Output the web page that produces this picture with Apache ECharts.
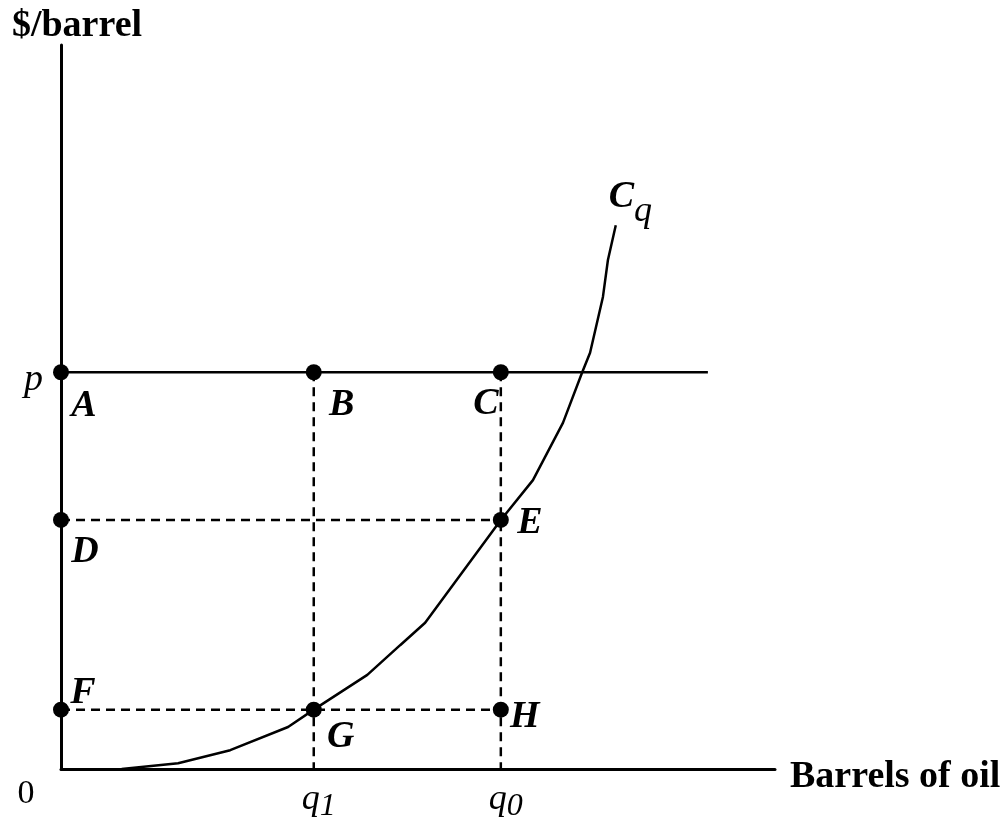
<!DOCTYPE html>
<html>
<head>
<meta charset="utf-8">
<script src="https://cdn.jsdelivr.net/npm/echarts@6/dist/echarts.min.js"></script>
<style>
  html, body { margin: 0; padding: 0; background: #fff; }
  #chart { width: 1007px; height: 821px; }
</style>
</head>
<body>
<div id="chart"></div>
<script>
// tick positions on the quantity axis and their labels
const xTicks = [0, 35.4, 61.6];
const xTickLabels = ['0', 'q1', 'q0'];
const yTicks = [54.8];
const yTickLabels = ['p'];

// price line p
const priceLineX = [0, 90.6];
const priceLineY = [54.8, 54.8];

// marked points
const pointNames = ['A', 'B', 'C', 'D', 'E', 'F', 'G', 'H'];
const pointX = [0, 35.4, 61.6, 0, 61.6, 0, 35.4, 61.6];
const pointY = [54.8, 54.8, 54.8, 34.4, 34.4, 8.2, 8.2, 8.2];

// dashed guide lines, [x0, y0, x1, y1]
const guideLines = [
  [35.4, 54.8, 35.4, 0],
  [61.6, 54.8, 61.6, 0],
  [0, 34.4, 61.6, 34.4],
  [0, 8.2, 61.6, 8.2]
];

// cost curve C_q
const curveX = [8.5, 16.4, 23.7, 31.8, 35.4, 42.9, 47.5, 51.0, 61.6, 66.1, 70.3, 73.0, 74.1, 75.9, 76.6, 77.7];
const curveY = [0, 0.8, 2.6, 5.8, 8.2, 13.0, 17.1, 20.2, 34.4, 39.9, 47.8, 54.8, 57.5, 65.2, 70.3, 75.1];

const serif = '"Liberation Serif", "Times New Roman", serif';

// where each point letter sits relative to its dot
const letterOffset = {
  A: [23, 34], B: [28, 33], C: [-15, 32], D: [24, 32],
  E: [29, 3], F: [22, -16], G: [27, 28], H: [24, 8]
};

let chart = echarts.init(document.getElementById('chart'));

let zip = (xs, ys) => xs.map((x, i) => [x, ys[i]]);

let guideSeries = guideLines.map(l => ({
  type: 'line',
  data: [[l[0], l[1]], [l[2], l[3]]],
  symbol: 'none',
  silent: true,
  lineStyle: { color: '#000', width: 2.5, type: [9, 6] },
  z: 2
}));

let option = {
  animation: false,
  backgroundColor: '#fff',
  grid: { left: 61, right: 232, top: 45, bottom: 52, outerBoundsMode: 'none', containLabel: false },
  xAxis: {
    type: 'value',
    min: 0,
    max: 100,
    name: '{n|Barrels of oil}',
    nameLocation: 'end',
    nameGap: 15,
    nameTextStyle: {
      rich: {
        n: { fontFamily: serif, fontWeight: 'bold', fontSize: 38, color: '#000', padding: [16, 0, 0, 0] }
      }
    },
    axisLine: { lineStyle: { color: '#000', width: 3 } },
    axisTick: { show: false },
    splitLine: { show: false },
    axisLabel: {
      customValues: xTicks,
      margin: 8,
      formatter: v => {
        let lab = xTickLabels[xTicks.indexOf(v)];
        if (lab === '0') return '{z|0}';
        return '{q|' + lab[0] + '}{s|' + lab.slice(1) + '}';
      },
      rich: {
        z: { fontFamily: serif, fontSize: 34, color: '#000', padding: [0, 70, 0, 0] },
        q: { fontFamily: serif, fontStyle: 'italic', fontSize: 36, color: '#000', padding: [0, 0, 0, 10] },
        s: { fontFamily: serif, fontStyle: 'italic', fontSize: 32, color: '#000', padding: [14, 0, 0, 0] }
      }
    }
  },
  yAxis: {
    type: 'value',
    min: 0,
    max: 100,
    name: '$/barrel',
    nameLocation: 'end',
    nameGap: 0,
    nameTextStyle: {
      fontFamily: serif, fontWeight: 'bold', fontSize: 38, color: '#000',
      padding: [0, 0, 0, 32]
    },
    axisLine: { lineStyle: { color: '#000', width: 3 } },
    axisTick: { show: false },
    splitLine: { show: false },
    axisLabel: {
      customValues: yTicks,
      margin: 18,
      formatter: v => '{p|' + yTickLabels[yTicks.indexOf(v)] + '}',
      rich: {
        p: { fontFamily: serif, fontStyle: 'italic', fontSize: 38, color: '#000', padding: [16, 0, 0, 0] }
      }
    }
  },
  series: [
    {
      name: 'p',
      type: 'line',
      data: zip(priceLineX, priceLineY),
      symbol: 'none',
      silent: true,
      lineStyle: { color: '#000', width: 2.5 },
      z: 3
    },
    ...guideSeries,
    {
      name: 'Cq',
      type: 'line',
      data: zip(curveX, curveY),
      symbol: 'none',
      smooth: false,
      silent: true,
      lineStyle: { color: '#000', width: 2.5 },
      endLabel: {
        show: true,
        formatter: '{c|C}{q|q}',
        offset: [-15, -28],
        rich: {
          c: { fontFamily: serif, fontWeight: 'bold', fontStyle: 'italic', fontSize: 38, color: '#000' },
          q: { fontFamily: serif, fontStyle: 'italic', fontSize: 36, color: '#000', padding: [28, 0, 0, 0] }
        }
      },
      z: 4
    },
    {
      name: 'points',
      type: 'scatter',
      data: pointNames.map((n, i) => ({
        name: n,
        value: [pointX[i], pointY[i]],
        label: { offset: letterOffset[n] }
      })),
      symbol: 'circle',
      symbolSize: 16,
      itemStyle: { color: '#000', opacity: 1 },
      label: {
        show: true,
        position: 'inside',
        formatter: '{b}',
        fontFamily: serif,
        fontWeight: 'bold',
        fontStyle: 'italic',
        fontSize: 38,
        color: '#000',
        opacity: 1
      },
      z: 5
    }
  ]
};

chart.setOption(option);
</script>
</body>
</html>
